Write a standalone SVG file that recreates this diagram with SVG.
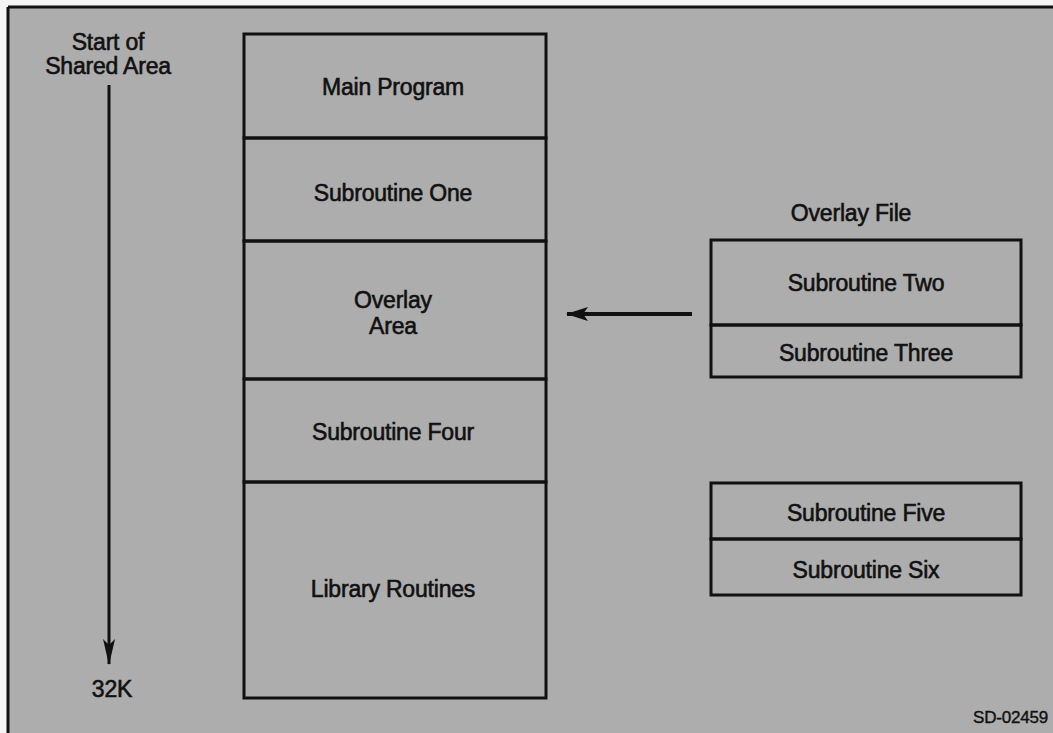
<svg xmlns="http://www.w3.org/2000/svg" width="1053" height="733" viewBox="0 0 1053 733">
<style>
.box{fill:none;stroke:#111;stroke-width:3}
.ln{stroke:#111;stroke-width:3}
text{font-family:"Liberation Sans",Arial,sans-serif;font-size:23px;fill:#111;stroke:#111;stroke-width:0.6;text-anchor:middle;letter-spacing:-0.2px}
.small{font-size:17px;stroke-width:0.4}
</style>
<defs>
<marker id="ahv" markerWidth="12" markerHeight="26" refX="6" refY="25" orient="0" markerUnits="userSpaceOnUse" viewBox="0 0 12 26"><path d="M0,0 L6,6 L12,0 L6,26 Z" fill="#111"/></marker>
<marker id="ahh" markerWidth="22" markerHeight="14" refX="21" refY="7" orient="auto" markerUnits="userSpaceOnUse" viewBox="0 0 22 14"><path d="M0,0 L22,7 L0,14 L5,7 Z" fill="#111"/></marker>
</defs>
<rect x="0" y="0" width="1053" height="733" fill="#f4f4f4"/>
<rect x="8" y="7" width="1045" height="726" fill="#adadad"/>
<line class="ln" x1="8" y1="7" x2="1053" y2="7"/>
<line class="ln" x1="8" y1="7" x2="8" y2="733"/>
<g id="start-label"><text x="108" y="50">Start of</text><text x="108" y="74">Shared Area</text></g>
<g id="end-label"><text x="112" y="697">32K</text></g>
<g id="main-program"><rect class="box" x="244" y="34" width="302" height="104"/><text x="393" y="95">Main Program</text></g>
<g id="sub-one"><rect class="box" x="244" y="138" width="302" height="103"/><text x="393" y="201">Subroutine One</text></g>
<g id="overlay-area"><rect class="box" x="244" y="241" width="302" height="138"/><text x="393" y="308">Overlay</text><text x="393" y="334">Area</text></g>
<g id="sub-four"><rect class="box" x="244" y="379" width="302" height="103"/><text x="393" y="440">Subroutine Four</text></g>
<g id="library"><rect class="box" x="244" y="482" width="302" height="216"/><text x="393" y="597">Library Routines</text></g>
<g id="overlay-file-label"><text x="851" y="221">Overlay File</text></g>
<g id="sub-two"><rect class="box" x="711" y="240" width="310" height="85"/><text x="866" y="291">Subroutine Two</text></g>
<g id="sub-three"><rect class="box" x="711" y="325" width="310" height="52"/><text x="866" y="361">Subroutine Three</text></g>
<g id="sub-five"><rect class="box" x="711" y="483" width="310" height="56"/><text x="866" y="521">Subroutine Five</text></g>
<g id="sub-six"><rect class="box" x="711" y="539" width="310" height="56"/><text x="866" y="578">Subroutine Six</text></g>
<g id="code"><text class="small" x="1048" y="723" style="text-anchor:end">SD-02459</text></g>
<g id="connectors">
<line class="ln" x1="109" y1="85" x2="109" y2="664" marker-end="url(#ahv)"/>
<line class="ln" x1="692" y1="314" x2="567" y2="314" marker-end="url(#ahh)" style="stroke-width:4"/>
</g>
</svg>
